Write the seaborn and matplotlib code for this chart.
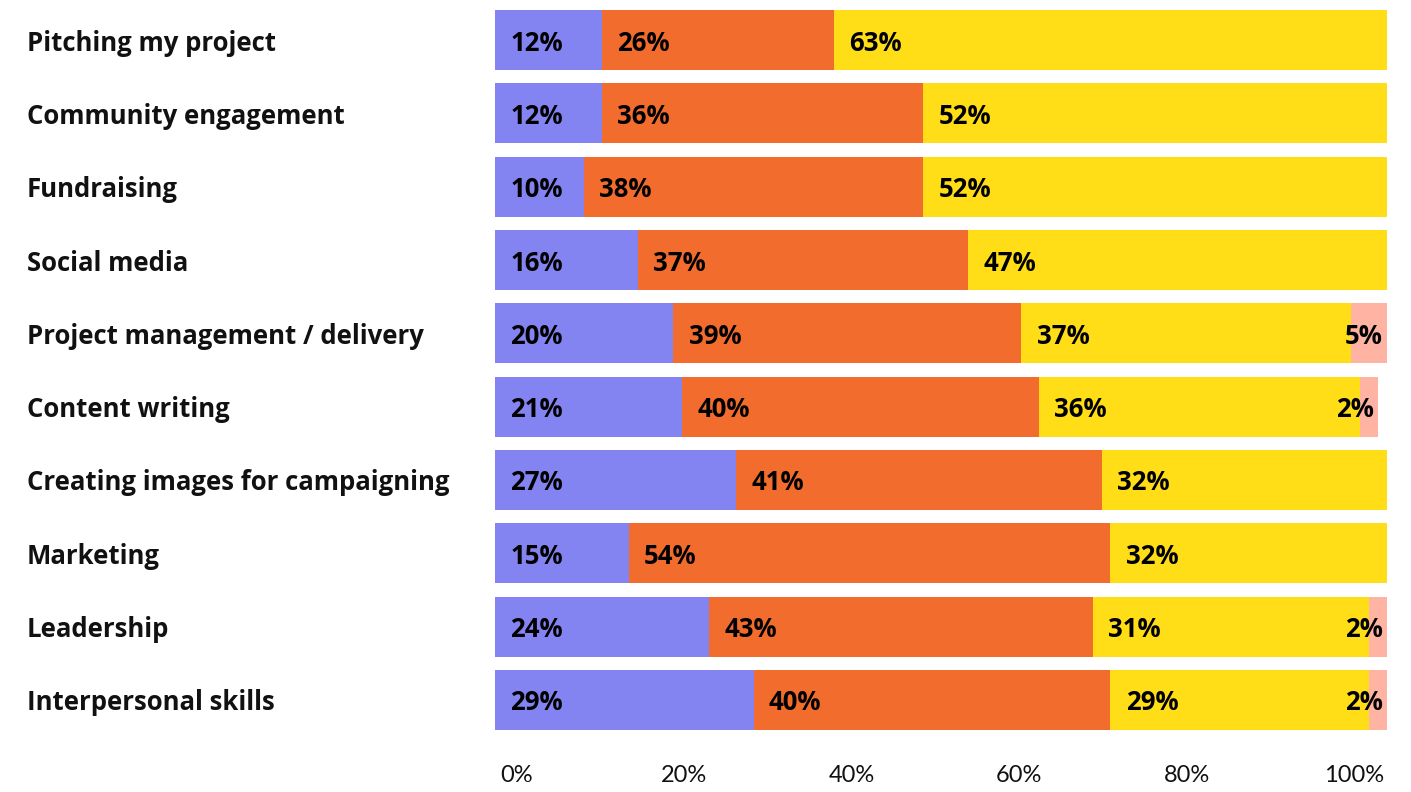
import matplotlib
matplotlib.use("Agg")
import matplotlib.pyplot as plt
import numpy as np
import seaborn as sns

# Survey skills and the share of answers in each of four response bands
categories = [
    "Pitching my project",
    "Community engagement",
    "Fundraising",
    "Social media",
    "Project management / delivery",
    "Content writing",
    "Creating images for campaigning",
    "Marketing",
    "Leadership",
    "Interpersonal skills",
]
band_1 = [12, 12, 10, 16, 20, 21, 27, 15, 24, 29]
band_2 = [26, 36, 38, 37, 39, 40, 41, 54, 43, 40]
band_3 = [63, 52, 52, 47, 37, 36, 32, 32, 31, 29]
band_4 = [0, 0, 0, 0, 5, 2, 0, 0, 2, 2]
tick_values = [0, 20, 40, 60, 80, 100]
tick_labels = [f"{v}%" for v in tick_values]

band_colors = ["#8383F2", "#F26C2D", "#FFDD17", "#FFB3A2"]

sns.set_style("white")
plt.rcParams["font.family"] = ["Open Sans", "DejaVu Sans"]

W, H = 1411, 792
fig = plt.figure(figsize=(W / 100, H / 100), dpi=100)
fig.patch.set_facecolor("white")

ax = fig.add_axes([495 / W, 62 / H, 892 / W, 720 / H])

bands = np.array([band_1, band_2, band_3, band_4])
cumulative = np.cumsum(bands, axis=0)

# Stack by drawing running totals from the outermost band inwards
for k in range(len(bands) - 1, -1, -1):
    sns.barplot(
        x=cumulative[k],
        y=categories,
        orient="h",
        color=band_colors[k],
        saturation=1,
        width=0.82,
        errorbar=None,
        linewidth=0,
        ax=ax,
    )

ax.set_xlim(0, 100)
ax.set_ylim(len(categories) - 1 + 0.41, -0.41)

# Value labels inside each segment
label_size = 18.5
for k in range(len(bands)):
    for i in range(len(categories)):
        val = bands[k][i]
        if val <= 0:
            continue
        start = cumulative[k][i] - val
        end = min(cumulative[k][i], 100)
        if val >= 6:
            ax.annotate(f"{val}%", xy=(start, i), xytext=(11, 0),
                        textcoords="offset points", ha="left", va="center_baseline",
                        fontsize=label_size, fontweight="bold", color="black")
        else:
            ax.annotate(f"{val}%", xy=(end, i), xytext=(-3, 0),
                        textcoords="offset points", ha="right", va="center_baseline",
                        fontsize=label_size, fontweight="bold", color="black")

# Category names, left-aligned at the figure edge
ax.set_yticks(range(len(categories)))
ax.set_yticklabels(categories, fontsize=18.5, fontweight="bold", color="#111111")
for lab in ax.get_yticklabels():
    lab.set_ha("left")
ax.tick_params(axis="y", length=0, pad=(495 - 27) * 72 / 100)
ax.set_xticks([])
ax.set_xlabel("")
ax.set_ylabel("")
for s in ax.spines.values():
    s.set_visible(False)

# Percentage scale along the bottom
tax = fig.add_axes([517 / W, 62 / H, (1354 - 517) / W, 0.0005])
tax.set_xlim(0, 100)
tax.set_xticks(tick_values)
tax.set_xticklabels(tick_labels, fontsize=17, color="#111111",
                    family=["Lato", "DejaVu Sans"])
tax.set_yticks([])
tax.tick_params(axis="x", length=0, pad=25)
tax.patch.set_visible(False)
for s in tax.spines.values():
    s.set_visible(False)

fig.savefig("out.png", dpi=100, facecolor="white")
